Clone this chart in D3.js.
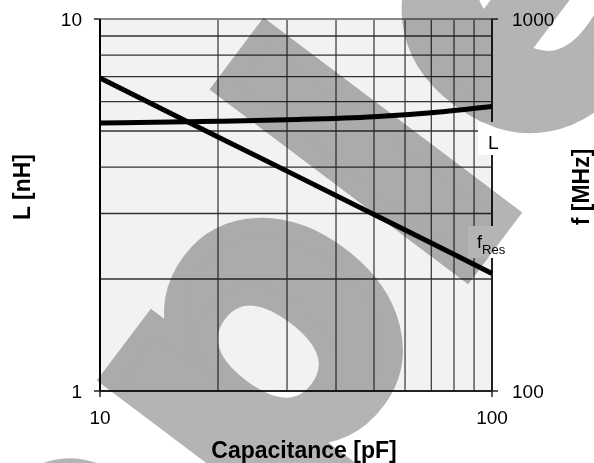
<!DOCTYPE html>
<html>
<head>
<meta charset="utf-8">
<script src="https://cdn.jsdelivr.net/npm/d3@7"></script>
<style>
  body { margin: 0; background: #fff; }
  svg { display: block; background: #fff; }
</style>
</head>
<body>
<div id="chart"></div>
<script>
var width = 594,
  height = 463,
  plotLeft = 100,
  plotRight = 492,
  plotTop = 19,
  plotBottom = 391;

// values
var capacitance = [10, 20, 30, 50, 70, 100];
var inductance = [5.25, 5.31, 5.36, 5.46, 5.6, 5.82];
var resonance = [694, 482, 390, 298, 250, 207];
var xTicks = [10, 100];
var xGrid = [20, 30, 40, 50, 60, 70, 80, 90];
var yLeftTicks = [1, 10];
var yRightTicks = [100, 1000];
var yGrid = [2, 3, 4, 5, 6, 7, 8, 9];

var x = d3.scaleLog().domain([10, 100]).range([plotLeft, plotRight]);
var yL = d3.scaleLog().domain([1, 10]).range([plotBottom, plotTop]);
var yF = d3.scaleLog().domain([100, 1000]).range([plotBottom, plotTop]);

var svg = d3.select("#chart").append("svg")
  .attr("width", width)
  .attr("height", height);

var font = "'Liberation Sans', Arial, sans-serif";

// plot background
svg.append("rect")
  .attr("x", plotLeft)
  .attr("y", plotTop)
  .attr("width", plotRight - plotLeft)
  .attr("height", plotBottom - plotTop)
  .attr("fill", "#f2f2f2");

// grid
svg.append("g").selectAll("line")
  .data(xGrid)
  .enter().append("line")
  .attr("x1", function (d) { return x(d); })
  .attr("x2", function (d) { return x(d); })
  .attr("y1", plotTop)
  .attr("y2", plotBottom)
  .attr("stroke", "#222")
  .attr("stroke-width", 1.1);

svg.append("g").selectAll("line")
  .data(yGrid)
  .enter().append("line")
  .attr("x1", plotLeft)
  .attr("x2", plotRight)
  .attr("y1", function (d) { return yL(d); })
  .attr("y2", function (d) { return yL(d); })
  .attr("stroke", "#333")
  .attr("stroke-width", 1.3);

// frame
svg.append("line").attr("x1", plotLeft).attr("x2", plotRight).attr("y1", plotTop).attr("y2", plotTop)
  .attr("stroke", "#888").attr("stroke-width", 2);
svg.append("line").attr("x1", plotLeft).attr("x2", plotRight).attr("y1", plotBottom).attr("y2", plotBottom)
  .attr("stroke", "#222").attr("stroke-width", 2);
svg.append("line").attr("x1", plotLeft).attr("x2", plotLeft).attr("y1", plotTop).attr("y2", plotBottom)
  .attr("stroke", "#000").attr("stroke-width", 2);
svg.append("line").attr("x1", plotRight).attr("x2", plotRight).attr("y1", plotTop).attr("y2", plotBottom)
  .attr("stroke", "#222").attr("stroke-width", 2);

// tick marks
svg.append("g").selectAll("line")
  .data(yLeftTicks)
  .enter().append("line")
  .attr("x1", plotLeft - 6).attr("x2", plotLeft)
  .attr("y1", function (d) { return yL(d); })
  .attr("y2", function (d) { return yL(d); })
  .attr("stroke", "#222").attr("stroke-width", 1.5);

svg.append("g").selectAll("line")
  .data(yRightTicks)
  .enter().append("line")
  .attr("x1", plotRight).attr("x2", plotRight + 6)
  .attr("y1", function (d) { return yF(d); })
  .attr("y2", function (d) { return yF(d); })
  .attr("stroke", "#222").attr("stroke-width", 1.5);

svg.append("g").selectAll("line")
  .data(xTicks)
  .enter().append("line")
  .attr("x1", function (d) { return x(d); })
  .attr("x2", function (d) { return x(d); })
  .attr("y1", plotBottom).attr("y2", plotBottom + 6)
  .attr("stroke", "#222").attr("stroke-width", 1.5);

// tick labels
svg.append("g").selectAll("text")
  .data(yLeftTicks)
  .enter().append("text")
  .attr("x", plotLeft - 18)
  .attr("y", function (d) { return yL(d); })
  .attr("dy", "0.36em")
  .attr("text-anchor", "end")
  .attr("font-family", font)
  .attr("font-size", 19)
  .text(function (d) { return d; });

svg.append("g").selectAll("text")
  .data(yRightTicks)
  .enter().append("text")
  .attr("x", plotRight + 20)
  .attr("y", function (d) { return yF(d); })
  .attr("dy", "0.36em")
  .attr("font-family", font)
  .attr("font-size", 19)
  .text(function (d) { return d; });

svg.append("g").selectAll("text")
  .data(xTicks)
  .enter().append("text")
  .attr("x", function (d) { return x(d); })
  .attr("y", plotBottom + 33)
  .attr("text-anchor", "middle")
  .attr("font-family", font)
  .attr("font-size", 19)
  .text(function (d) { return d; });

// curves
var lineL = d3.line()
  .curve(d3.curveMonotoneX)
  .x(function (d, i) { return x(capacitance[i]); })
  .y(function (d) { return yL(d); });

var lineF = d3.line()
  .x(function (d, i) { return x(capacitance[i]); })
  .y(function (d) { return yF(d); });

svg.append("path")
  .datum(inductance)
  .attr("d", lineL)
  .attr("fill", "none")
  .attr("stroke", "#000")
  .attr("stroke-width", 5);

svg.append("path")
  .datum(resonance)
  .attr("d", lineF)
  .attr("fill", "none")
  .attr("stroke", "#000")
  .attr("stroke-width", 5);

// curve labels
svg.append("rect")
  .attr("x", plotRight - 14).attr("y", 122)
  .attr("width", 20).attr("height", 33)
  .attr("fill", "#fff");
svg.append("text")
  .attr("x", plotRight - 4).attr("y", 149)
  .attr("font-family", font)
  .attr("font-size", 19)
  .text("L");

svg.append("rect")
  .attr("x", plotRight - 24).attr("y", 226)
  .attr("width", 44).attr("height", 32)
  .attr("fill", "#fff");
var fres = svg.append("text")
  .attr("x", plotRight - 15).attr("y", 248)
  .attr("font-family", font)
  .attr("font-size", 18);
fres.append("tspan").text("f");
fres.append("tspan").attr("dy", 6).attr("font-size", 13).text("Res");

// axis titles
svg.append("text")
  .attr("x", 304).attr("y", 458)
  .attr("text-anchor", "middle")
  .attr("font-family", font)
  .attr("font-weight", "bold")
  .attr("font-size", 23)
  .text("Capacitance [pF]");

svg.append("text")
  .attr("transform", "translate(30,187) rotate(-90)")
  .attr("text-anchor", "middle")
  .attr("font-family", font)
  .attr("font-weight", "bold")
  .attr("font-size", 23)
  .text("L [nH]");

svg.append("text")
  .attr("transform", "translate(589,187) rotate(-90)")
  .attr("text-anchor", "middle")
  .attr("font-family", font)
  .attr("font-weight", "bold")
  .attr("font-size", 23)
  .text("f [MHz]");

// watermark
var wm = svg.append("text")
  .attr("font-family", "'DejaVu Sans', sans-serif")
  .attr("font-weight", "bold")
  .attr("font-size", 400)
  .attr("letter-spacing", 14)
  .attr("fill", "#b4b4b4")
  .attr("stroke", "#b4b4b4")
  .attr("stroke-width", 20)
  .attr("stroke-linejoin", "miter")
  .style("mix-blend-mode", "multiply")
  .text("sample");

var lBox = wm.node().getExtentOfChar(4);
var lMid = lBox.x + (lBox.width - 14) / 2;
wm.attr("transform", "translate(492,246) rotate(-53) translate(" + (-lMid) + ",-6)");
</script>
</body>
</html>
